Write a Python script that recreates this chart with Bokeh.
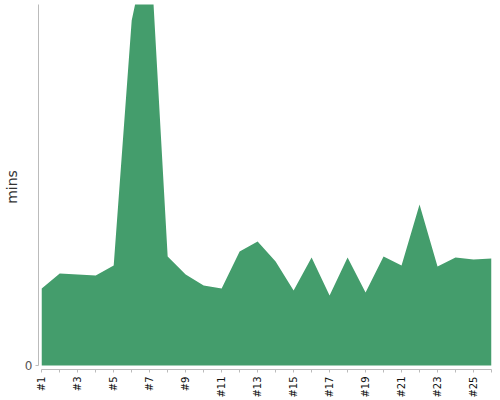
import math
from bokeh.plotting import figure
from bokeh.models import Range1d, FixedTicker
from bokeh.embed import file_html
from bokeh.resources import INLINE

labels = [f"#{i}" for i in range(1, 27)]
mins = [7.7, 9.2, 9.1, 9.0, 10.0, 34.5, 43.0, 10.9, 9.1, 8.0, 7.7, 11.4, 12.4,
        10.4, 7.5, 10.8, 7.0, 10.8, 7.3, 10.9, 10.0, 16.1, 9.9, 10.8, 10.6, 10.7]
y_top = 36.1

xs = list(range(len(labels)))

p = figure(width=492, height=400, output_backend="svg", toolbar_location=None,
           x_range=Range1d(-0.18, len(labels) - 1), y_range=Range1d(-0.4, y_top),
           min_border_left=0, min_border_right=1, min_border_top=4, min_border_bottom=0)
p.outline_line_color = None
p.grid.visible = False

p.varea(x=xs, y1=[0] * len(xs), y2=mins, fill_color="#449d6c")

xa = p.xaxis[0]
xa.ticker = FixedTicker(ticks=xs)
xa.major_label_overrides = {i: (labels[i] if i % 2 == 0 else "") for i in xs}
xa.major_label_orientation = math.pi / 2
xa.bounds = (0, len(labels) - 1)
xa.axis_line_color = "#bbbbbb"
xa.major_tick_line_color = "#bbbbbb"
xa.major_tick_in = 0
xa.major_tick_out = 3
xa.minor_tick_line_color = None
xa.major_label_standoff = 4
xa.major_label_text_font = "DejaVu Sans"
xa.major_label_text_font_size = "10px"
xa.major_label_text_color = "#111111"

ya = p.yaxis[0]
ya.ticker = FixedTicker(ticks=[0])
ya.bounds = (0, y_top)
ya.axis_line_color = "#bbbbbb"
ya.major_tick_line_color = "#bbbbbb"
ya.major_tick_in = 0
ya.major_tick_out = 3
ya.minor_tick_line_color = None
ya.major_label_standoff = 3
ya.major_label_text_font = "DejaVu Sans"
ya.major_label_text_font_size = "12px"
ya.major_label_text_color = "#555555"
ya.axis_label = "mins"
ya.axis_label_text_font = "DejaVu Sans"
ya.axis_label_text_font_size = "14px"
ya.axis_label_text_font_style = "normal"
ya.axis_label_text_color = "#333333"
ya.axis_label_standoff = 2

open("out.html", "w").write(file_html(p, INLINE))
